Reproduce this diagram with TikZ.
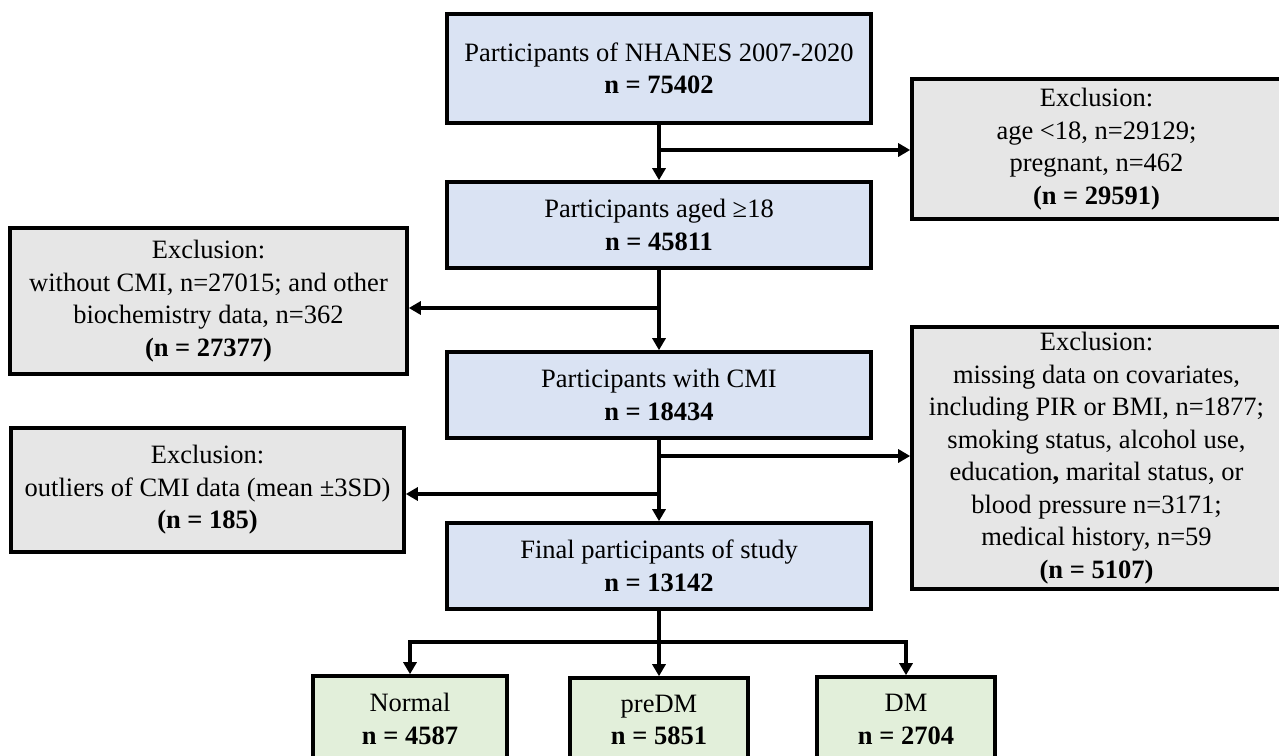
\documentclass[tikz,border=0pt]{standalone}
\usepackage{fontspec}
\setmainfont{Liberation Serif}
\usetikzlibrary{arrows.meta}
\definecolor{boxblue}{HTML}{DAE3F3}
\definecolor{boxgray}{HTML}{E6E6E6}
\definecolor{boxgreen}{HTML}{E2EFDA}
\tikzset{
  basebox/.style={draw=black, line width=3.6pt, align=center, inner sep=0pt,
    font=\fontsize{26.5}{32.5}\selectfont},
  bluebox/.style={basebox, fill=boxblue, minimum width=424pt, minimum height=86pt},
  graybox/.style={basebox, fill=boxgray},
  greenbox/.style={basebox, fill=boxgreen},
  conn/.style={line width=3.6pt, -{Triangle[length=12pt,width=13pt]}},
}
\begin{document}
\begin{tikzpicture}[x=1pt,y=-1pt]
\useasboundingbox (0,0) rectangle (1279,755);
\node[bluebox, minimum height=109pt] (top) at (659,68.5) {Participants of NHANES 2007-2020\\\textbf{n = 75402}};
\node[bluebox] (b2) at (659,225) {Participants aged ≥18\\\textbf{n = 45811}};
\node[bluebox] (b3) at (659,395) {Participants with CMI\\\textbf{n = 18434}};
\node[bluebox] (b4) at (659,566) {Final participants of study\\\textbf{n = 13142}};
\node[graybox, minimum width=369pt, minimum height=140pt] (r1) at (1096.5,149) {Exclusion:\\age <18, n=29129;\\pregnant, n=462\\\textbf{(n = 29591)}};
\node[graybox, minimum width=369pt, minimum height=262pt] (r2) at (1096.5,458) {Exclusion:\\missing data on covariates,\\including PIR or BMI, n=1877;\\smoking status, alcohol use,\\education\textbf{,} marital status, or\\blood pressure n=3171;\\medical history, n=59\\\textbf{(n = 5107)}};
\node[graybox, minimum width=397pt, minimum height=146pt] (l1) at (208.5,301) {Exclusion:\\without CMI, n=27015; and other\\biochemistry data, n=362\\\textbf{(n = 27377)}};
\node[graybox, minimum width=393pt, minimum height=124pt] (l2) at (207.5,490) {Exclusion:\\outliers of CMI data (mean ±3SD)\\\textbf{(n = 185)}};
\node[greenbox, minimum width=194pt, minimum height=86pt] (g1) at (410,719) {Normal\\\textbf{n = 4587}};
\node[greenbox, minimum width=178pt, minimum height=84pt] (g2) at (659,720) {preDM\\\textbf{n = 5851}};
\node[greenbox, minimum width=178pt, minimum height=85pt] (g3) at (906,719.5) {DM\\\textbf{n = 2704}};
\coordinate (j1) at (659,150);
\coordinate (j2) at (659,308);
\coordinate (j3) at (659,456);
\coordinate (j4) at (659,494);
\coordinate (j5) at (659,642);
\draw[conn] (top.south) -- (b2.north);
\draw[conn] (j1) -- (j1 -| r1.west);
\draw[conn] (b2.south) -- (b3.north);
\draw[conn] (j2) -- (j2 -| l1.east);
\draw[conn] (b3.south) -- (b4.north);
\draw[conn] (j3) -- (j3 -| r2.west);
\draw[conn] (j4) -- (j4 -| l2.east);
\draw[conn] (b4.south) -- (g2.north);
\draw[conn] (j5) -| (g1.north);
\draw[conn] (j5) -| (g3.north);
\end{tikzpicture}
\end{document}
